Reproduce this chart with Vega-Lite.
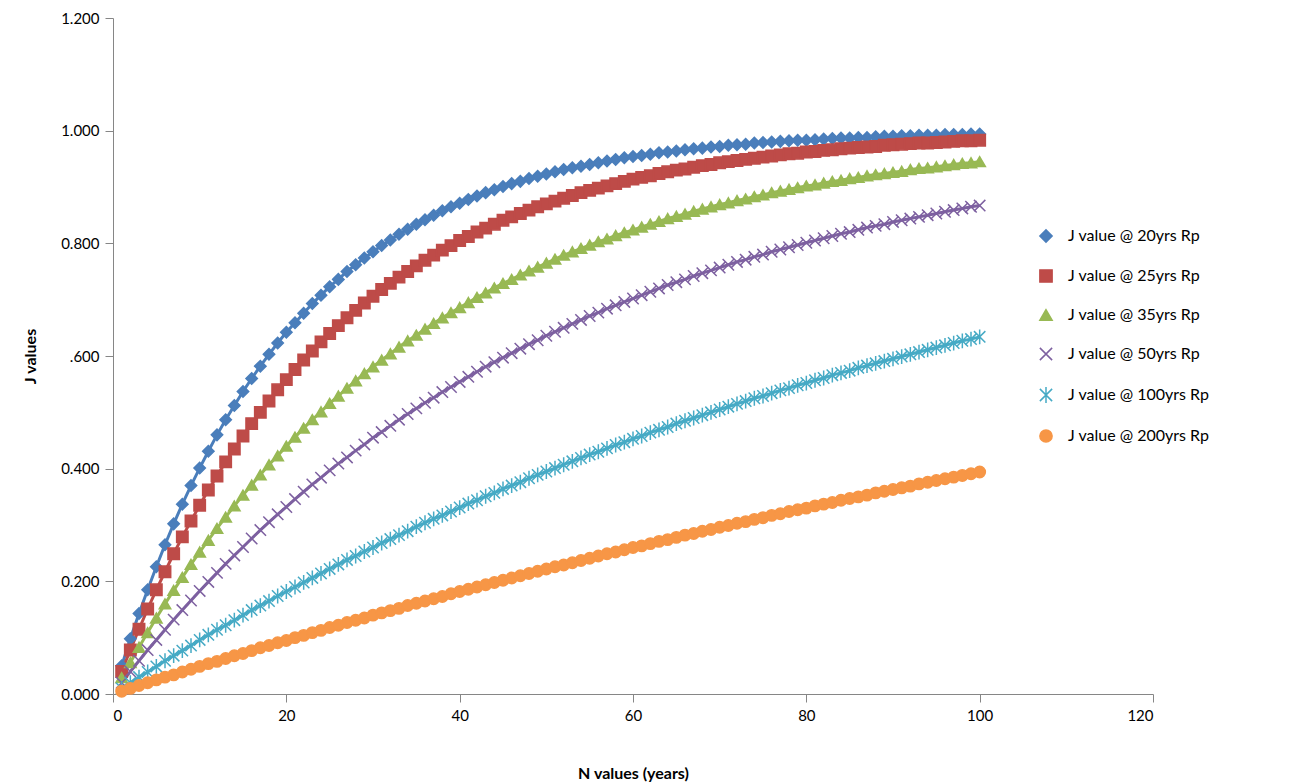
{
"$schema":"https://vega.github.io/schema/vega-lite/v6.json",
"width":1040,"height":676,
"autosize":{"type":"none"},
"padding":{"left":113,"top":18,"right":148,"bottom":90},
"config":{"font":"Lato","view":{"stroke":null},
"legend":{"orient":"none","legendX":925,"legendY":210,"symbolSize":150,"labelFontSize":16,"labelColor":"#000","rowPadding":20,"labelOffset":14,"symbolStrokeWidth":1.5,"title":null}},
"data":{"values":[
{"s":"J value @ 20yrs Rp","n":[1,2,3,4,5,6,7,8,9,10,11,12,13,14,15,16,17,18,19,20,21,22,23,24,25,26,27,28,29,30,31,32,33,34,35,36,37,38,39,40,41,42,43,44,45,46,47,48,49,50,51,52,53,54,55,56,57,58,59,60,61,62,63,64,65,66,67,68,69,70,71,72,73,74,75,76,77,78,79,80,81,82,83,84,85,86,87,88,89,90,91,92,93,94,95,96,97,98,99,100],
"j":[0.050,0.098,0.143,0.185,0.226,0.265,0.302,0.337,0.370,0.401,0.431,0.460,0.487,0.512,0.537,0.560,0.582,0.603,0.623,0.642,0.659,0.676,0.693,0.708,0.723,0.736,0.750,0.762,0.774,0.785,0.796,0.806,0.816,0.825,0.834,0.842,0.850,0.858,0.865,0.871,0.878,0.884,0.890,0.895,0.901,0.906,0.910,0.915,0.919,0.923,0.927,0.931,0.934,0.937,0.940,0.943,0.946,0.949,0.952,0.954,0.956,0.958,0.961,0.962,0.964,0.966,0.968,0.969,0.971,0.972,0.974,0.975,0.976,0.978,0.979,0.980,0.981,0.982,0.983,0.983,0.984,0.985,0.986,0.987,0.987,0.988,0.988,0.989,0.990,0.990,0.991,0.991,0.992,0.992,0.992,0.993,0.993,0.993,0.994,0.994]},
{"s":"J value @ 25yrs Rp","n":[1,2,3,4,5,6,7,8,9,10,11,12,13,14,15,16,17,18,19,20,21,22,23,24,25,26,27,28,29,30,31,32,33,34,35,36,37,38,39,40,41,42,43,44,45,46,47,48,49,50,51,52,53,54,55,56,57,58,59,60,61,62,63,64,65,66,67,68,69,70,71,72,73,74,75,76,77,78,79,80,81,82,83,84,85,86,87,88,89,90,91,92,93,94,95,96,97,98,99,100],
"j":[0.040,0.078,0.115,0.151,0.185,0.217,0.249,0.279,0.307,0.335,0.362,0.387,0.412,0.435,0.458,0.480,0.500,0.520,0.540,0.558,0.576,0.593,0.609,0.625,0.640,0.654,0.668,0.681,0.694,0.706,0.718,0.729,0.740,0.750,0.760,0.770,0.779,0.788,0.796,0.805,0.812,0.820,0.827,0.834,0.841,0.847,0.853,0.859,0.865,0.870,0.875,0.880,0.885,0.890,0.894,0.898,0.902,0.906,0.910,0.914,0.917,0.920,0.924,0.927,0.930,0.932,0.935,0.938,0.940,0.943,0.945,0.947,0.949,0.951,0.953,0.955,0.957,0.959,0.960,0.962,0.963,0.965,0.966,0.968,0.969,0.970,0.971,0.972,0.974,0.975,0.976,0.977,0.978,0.978,0.979,0.980,0.981,0.982,0.982,0.983]},
{"s":"J value @ 35yrs Rp","n":[1,2,3,4,5,6,7,8,9,10,11,12,13,14,15,16,17,18,19,20,21,22,23,24,25,26,27,28,29,30,31,32,33,34,35,36,37,38,39,40,41,42,43,44,45,46,47,48,49,50,51,52,53,54,55,56,57,58,59,60,61,62,63,64,65,66,67,68,69,70,71,72,73,74,75,76,77,78,79,80,81,82,83,84,85,86,87,88,89,90,91,92,93,94,95,96,97,98,99,100],
"j":[0.029,0.056,0.083,0.109,0.135,0.160,0.184,0.207,0.230,0.252,0.273,0.294,0.314,0.334,0.353,0.371,0.389,0.407,0.423,0.440,0.456,0.472,0.487,0.501,0.516,0.529,0.543,0.556,0.569,0.581,0.593,0.604,0.616,0.627,0.637,0.648,0.658,0.668,0.677,0.686,0.695,0.704,0.712,0.721,0.729,0.736,0.744,0.751,0.758,0.765,0.772,0.779,0.785,0.791,0.797,0.803,0.808,0.814,0.819,0.824,0.829,0.834,0.839,0.844,0.848,0.852,0.857,0.861,0.865,0.869,0.872,0.876,0.879,0.883,0.886,0.890,0.893,0.896,0.899,0.902,0.904,0.907,0.910,0.912,0.915,0.917,0.920,0.922,0.924,0.926,0.928,0.931,0.933,0.934,0.936,0.938,0.940,0.942,0.943,0.945]},
{"s":"J value @ 50yrs Rp","n":[1,2,3,4,5,6,7,8,9,10,11,12,13,14,15,16,17,18,19,20,21,22,23,24,25,26,27,28,29,30,31,32,33,34,35,36,37,38,39,40,41,42,43,44,45,46,47,48,49,50,51,52,53,54,55,56,57,58,59,60,61,62,63,64,65,66,67,68,69,70,71,72,73,74,75,76,77,78,79,80,81,82,83,84,85,86,87,88,89,90,91,92,93,94,95,96,97,98,99,100],
"j":[0.020,0.040,0.059,0.078,0.096,0.114,0.132,0.149,0.166,0.183,0.199,0.215,0.231,0.246,0.261,0.276,0.291,0.305,0.319,0.332,0.346,0.359,0.372,0.384,0.397,0.409,0.420,0.432,0.443,0.455,0.465,0.476,0.487,0.497,0.507,0.517,0.526,0.536,0.545,0.554,0.563,0.572,0.581,0.589,0.597,0.605,0.613,0.621,0.628,0.636,0.643,0.650,0.657,0.664,0.671,0.677,0.684,0.690,0.696,0.702,0.708,0.714,0.720,0.726,0.731,0.736,0.742,0.747,0.752,0.757,0.762,0.767,0.771,0.776,0.780,0.785,0.789,0.793,0.797,0.801,0.805,0.809,0.813,0.817,0.820,0.824,0.828,0.831,0.834,0.838,0.841,0.844,0.847,0.850,0.853,0.856,0.859,0.862,0.865,0.867]},
{"s":"J value @ 100yrs Rp","n":[1,2,3,4,5,6,7,8,9,10,11,12,13,14,15,16,17,18,19,20,21,22,23,24,25,26,27,28,29,30,31,32,33,34,35,36,37,38,39,40,41,42,43,44,45,46,47,48,49,50,51,52,53,54,55,56,57,58,59,60,61,62,63,64,65,66,67,68,69,70,71,72,73,74,75,76,77,78,79,80,81,82,83,84,85,86,87,88,89,90,91,92,93,94,95,96,97,98,99,100],
"j":[0.010,0.020,0.030,0.039,0.049,0.059,0.068,0.077,0.086,0.096,0.105,0.114,0.122,0.131,0.140,0.149,0.157,0.165,0.174,0.182,0.190,0.198,0.206,0.214,0.222,0.230,0.238,0.245,0.253,0.260,0.268,0.275,0.282,0.289,0.297,0.304,0.311,0.317,0.324,0.331,0.338,0.344,0.351,0.357,0.364,0.370,0.376,0.383,0.389,0.395,0.401,0.407,0.413,0.419,0.425,0.430,0.436,0.442,0.447,0.453,0.458,0.464,0.469,0.474,0.480,0.485,0.490,0.495,0.500,0.505,0.510,0.515,0.520,0.525,0.529,0.534,0.539,0.543,0.548,0.552,0.557,0.561,0.566,0.570,0.574,0.579,0.583,0.587,0.591,0.595,0.599,0.603,0.607,0.611,0.615,0.619,0.623,0.627,0.630,0.634]},
{"s":"J value @ 200yrs Rp","n":[1,2,3,4,5,6,7,8,9,10,11,12,13,14,15,16,17,18,19,20,21,22,23,24,25,26,27,28,29,30,31,32,33,34,35,36,37,38,39,40,41,42,43,44,45,46,47,48,49,50,51,52,53,54,55,56,57,58,59,60,61,62,63,64,65,66,67,68,69,70,71,72,73,74,75,76,77,78,79,80,81,82,83,84,85,86,87,88,89,90,91,92,93,94,95,96,97,98,99,100],
"j":[0.005,0.010,0.015,0.020,0.025,0.030,0.034,0.039,0.044,0.049,0.054,0.058,0.063,0.068,0.072,0.077,0.082,0.086,0.091,0.095,0.100,0.104,0.109,0.113,0.118,0.122,0.127,0.131,0.135,0.140,0.144,0.148,0.152,0.157,0.161,0.165,0.169,0.173,0.178,0.182,0.186,0.190,0.194,0.198,0.202,0.206,0.210,0.214,0.218,0.222,0.226,0.229,0.233,0.237,0.241,0.245,0.249,0.252,0.256,0.260,0.263,0.267,0.271,0.274,0.278,0.282,0.285,0.289,0.292,0.296,0.299,0.303,0.306,0.310,0.313,0.317,0.320,0.324,0.327,0.330,0.334,0.337,0.340,0.344,0.347,0.350,0.353,0.357,0.360,0.363,0.366,0.369,0.373,0.376,0.379,0.382,0.385,0.388,0.391,0.394]}
]},
"transform":[{"flatten":["n","j"]}],
"encoding":{
"x":{"field":"n","type":"quantitative","title":"N values (years)",
"scale":{"domain":[0,120]},
"axis":{"values":[0,20,40,60,80,100,120],"grid":false,"domainColor":"#868686","tickColor":"#868686","tickSize":8,"labelFontSize":15,"labelColor":"#000","labelPadding":6,"titleFontSize":16,"titleFontWeight":"bold","titleColor":"#000","titlePadding":42}},
"y":{"field":"j","type":"quantitative","title":"J values",
"scale":{"domain":[0,1.2]},
"axis":{"values":[0,0.2,0.4,0.6,0.8,1,1.2],"labelExpr":"datum.value == 0.6 ? '.600' : format(datum.value, '.3f')","grid":false,"domainColor":"#868686","tickColor":"#868686","tickSize":8,"labelFontSize":15,"labelColor":"#000","labelPadding":6,"titleFontSize":16,"titleFontWeight":"bold","titleColor":"#000","titlePadding":22}}
},
"layer":[
{"mark":{"type":"line","strokeWidth":3},
"encoding":{"color":{"field":"s","type":"nominal",
"scale":{"domain":["J value @ 20yrs Rp","J value @ 25yrs Rp","J value @ 35yrs Rp","J value @ 50yrs Rp","J value @ 100yrs Rp","J value @ 200yrs Rp"],"range":["#4A7EBB","#BE4B48","#98B954","#7D60A0","#46AAC5","#F79646"]}}}},
{"mark":{"type":"point","filled":true,"opacity":1,"size":130,"strokeWidth":1.5},
"encoding":{
"color":{"field":"s","type":"nominal",
"scale":{"domain":["J value @ 20yrs Rp","J value @ 25yrs Rp","J value @ 35yrs Rp","J value @ 50yrs Rp","J value @ 100yrs Rp","J value @ 200yrs Rp"],"range":["#4A7EBB","#BE4B48","#98B954","#7D60A0","#46AAC5","#F79646"]}},
"stroke":{"field":"s","type":"nominal",
"scale":{"domain":["J value @ 20yrs Rp","J value @ 25yrs Rp","J value @ 35yrs Rp","J value @ 50yrs Rp","J value @ 100yrs Rp","J value @ 200yrs Rp"],"range":["#4A7EBB","#BE4B48","#98B954","#7D60A0","#46AAC5","#F79646"]}},
"shape":{"field":"s","type":"nominal",
"scale":{"domain":["J value @ 20yrs Rp","J value @ 25yrs Rp","J value @ 35yrs Rp","J value @ 50yrs Rp","J value @ 100yrs Rp","J value @ 200yrs Rp"],"range":["diamond","square","triangle-up","M-1,-1L1,1M-1,1L1,-1","M-1,-1L1,1M-1,1L1,-1M0,-1.3L0,1.3","circle"]}}
}}
]
}
